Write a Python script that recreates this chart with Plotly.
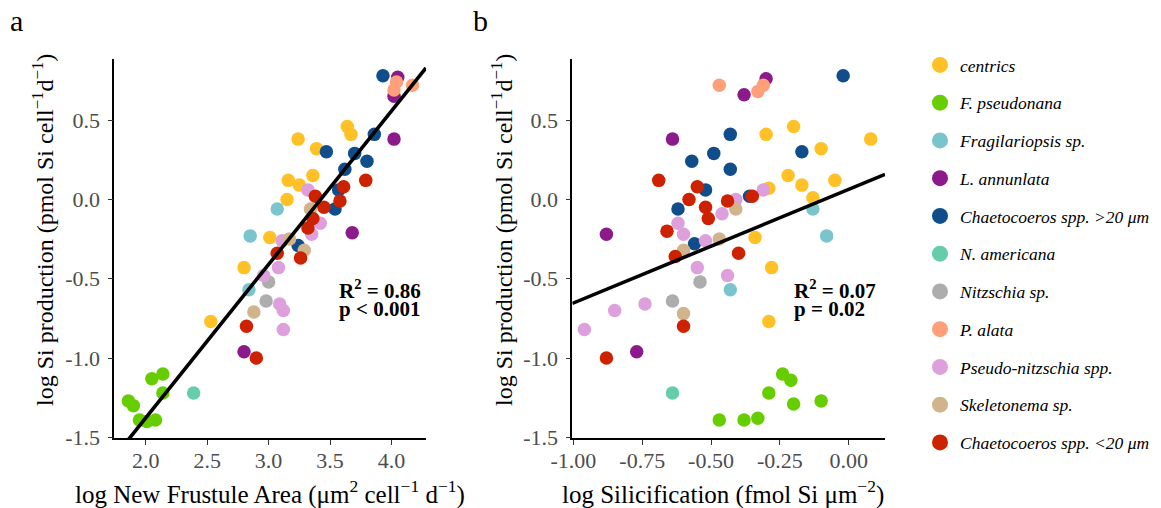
import numpy as np
import plotly.graph_objects as go

# ---------------------------------------------------------------- data
species = [
    "centrics", "F. pseudonana", "Fragilariopsis sp.", "L. annunlata",
    "Chaetocoeros spp. &gt;20 μm", "N. americana", "Nitzschia sp.",
    "P. alata", "Pseudo-nitzschia spp.", "Skeletonema sp.",
    "Chaetocoeros spp. &lt;20 μm",
]
colors = [
    "#FFC125", "#66CD00", "#7AC5CD", "#8B1A8B", "#104E8B", "#66CDAA",
    "#ADADAD", "#FFA07A", "#DDA0DD", "#D2B48C", "#CD2200",
]

# panel a: log new frustule area vs log Si production
area_centrics = [2.53, 2.80, 3.01, 3.15, 3.16, 3.25, 3.24, 3.39, 3.36, 3.64, 3.67]
prod_a_centrics = [-0.77, -0.43, -0.24, 0.00, 0.12, 0.09, 0.38, 0.32, 0.15, 0.46, 0.41]
area_fpseud = [1.86, 1.90, 2.05, 2.14, 2.14, 1.95, 2.01, 2.08]
prod_a_fpseud = [-1.27, -1.30, -1.13, -1.10, -1.22, -1.39, -1.40, -1.39]
area_fragil = [3.07, 2.85, 2.84]
prod_a_fragil = [-0.06, -0.23, -0.57]
area_lann = [4.05, 4.02, 4.02, 3.68, 2.80]
prod_a_lann = [0.77, 0.65, 0.38, -0.21, -0.96]
area_chaet_big = [3.93, 3.47, 3.70, 3.62, 3.80, 3.86, 3.54, 3.57, 3.24]
prod_a_chaet_big = [0.78, 0.30, 0.29, 0.19, 0.24, 0.41, -0.06, 0.06, -0.29]
area_namer = [2.39]
prod_a_namer = [-1.22]
area_nitz = [3.00, 2.98]
prod_a_nitz = [-0.52, -0.64]
area_palata = [4.04, 4.02, 4.17]
prod_a_palata = [0.74, 0.69, 0.72]
area_pseudo = [3.32, 3.42, 3.35, 3.11, 3.08, 2.96, 3.09, 3.12, 3.12]
prod_a_pseudo = [0.06, -0.15, -0.22, -0.26, -0.43, -0.48, -0.66, -0.70, -0.82]
area_skel = [3.17, 3.29, 3.34, 2.88]
prod_a_skel = [-0.25, -0.32, -0.06, -0.71]
area_chaet_small = [3.79, 3.61, 3.58, 3.38, 3.45, 3.36, 3.32, 3.07, 3.26, 2.82, 2.90]
prod_a_chaet_small = [0.12, 0.08, -0.01, 0.02, -0.05, -0.12, -0.18, -0.34, -0.37, -0.80, -1.00]

# panel b: log silicification vs log Si production
silic_centrics = [-0.30, -0.20, -0.10, 0.08, -0.22, -0.17, -0.05, -0.29, -0.13, -0.34, -0.28, -0.29]
prod_b_centrics = [0.41, 0.46, 0.32, 0.38, 0.15, 0.09, 0.12, 0.07, 0.01, -0.24, -0.43, -0.77]
silic_fpseud = [-0.47, -0.38, -0.33, -0.29, -0.24, -0.21, -0.20, -0.10]
prod_b_fpseud = [-1.39, -1.39, -1.38, -1.22, -1.10, -1.14, -1.29, -1.27]
silic_fragil = [-0.13, -0.08, -0.43]
prod_b_fragil = [-0.06, -0.23, -0.57]
silic_lann = [-0.30, -0.38, -0.64, -0.88, -0.77]
prod_b_lann = [0.76, 0.66, 0.38, -0.22, -0.96]
silic_chaet_big = [-0.02, -0.43, -0.17, -0.49, -0.57, -0.43, -0.52, -0.62, -0.36, -0.56]
prod_b_chaet_big = [0.78, 0.41, 0.30, 0.29, 0.24, 0.19, 0.06, -0.06, 0.02, -0.28]
silic_namer = [-0.64]
prod_b_namer = [-1.22]
silic_nitz = [-0.54, -0.64]
prod_b_nitz = [-0.52, -0.64]
silic_palata = [-0.47, -0.33, -0.31]
prod_b_palata = [0.72, 0.68, 0.72]
silic_pseudo = [-0.31, -0.41, -0.46, -0.62, -0.60, -0.52, -0.55, -0.44, -0.74, -0.85, -0.96]
prod_b_pseudo = [0.06, 0.00, -0.09, -0.15, -0.22, -0.26, -0.43, -0.48, -0.66, -0.70, -0.82]
silic_skel = [-0.41, -0.47, -0.60, -0.60]
prod_b_skel = [-0.06, -0.25, -0.32, -0.72]
silic_chaet_small = [-0.69, -0.55, -0.58, -0.52, -0.51, -0.66, -0.44, -0.35, -0.40, -0.63, -0.60, -0.88]
prod_b_chaet_small = [0.12, 0.08, 0.00, -0.05, -0.12, -0.20, -0.01, 0.02, -0.34, -0.36, -0.80, -1.00]

panel_a = [
    (area_centrics, prod_a_centrics), (area_fpseud, prod_a_fpseud),
    (area_fragil, prod_a_fragil), (area_lann, prod_a_lann),
    (area_chaet_big, prod_a_chaet_big), (area_namer, prod_a_namer),
    (area_nitz, prod_a_nitz), (area_palata, prod_a_palata),
    (area_pseudo, prod_a_pseudo), (area_skel, prod_a_skel),
    (area_chaet_small, prod_a_chaet_small),
]
panel_b = [
    (silic_centrics, prod_b_centrics), (silic_fpseud, prod_b_fpseud),
    (silic_fragil, prod_b_fragil), (silic_lann, prod_b_lann),
    (silic_chaet_big, prod_b_chaet_big), (silic_namer, prod_b_namer),
    (silic_nitz, prod_b_nitz), (silic_palata, prod_b_palata),
    (silic_pseudo, prod_b_pseudo), (silic_skel, prod_b_skel),
    (silic_chaet_small, prod_b_chaet_small),
]

# fitted regression lines (slope, intercept) of the full data sets
fit_a = (0.968, -3.314)
fit_b = (0.716, 0.063)

stats_a = ["<b>R<sup>2</sup> = 0.86</b>", "<b>p &lt; 0.001</b>"]
stats_b = ["<b>R<sup>2</sup> = 0.07</b>", "<b>p = 0.02</b>"]

y_ticks = [-1.5, -1.0, -0.5, 0.0, 0.5]
y_ticktext = ["-1.5", "-1.0", "-0.5", "0.0", "0.5"]
xa_ticks = [2.0, 2.5, 3.0, 3.5, 4.0]
xa_ticktext = ["2.0", "2.5", "3.0", "3.5", "4.0"]
xb_ticks = [-1.0, -0.75, -0.5, -0.25, 0.0]
xb_ticktext = ["-1.00", "-0.75", "-0.50", "-0.25", "0.00"]

# ---------------------------------------------------------------- figure
W, H = 1161, 508
SERIF = "Liberation Serif"
xa_range = [1.745, 4.28]
xb_range = [-1.004, 0.132]
y_range = [-1.504, 0.885]


def px_x(p):
    return p / W


def px_y(p):
    return 1 - p / H


fig = go.Figure()

for panel, (xs_name, ys_name) in (("a", ("x", "y")), ("b", ("x2", "y2"))):
    groups = panel_a if panel == "a" else panel_b
    for name, color, (xv, yv) in zip(species, colors, groups):
        fig.add_trace(go.Scatter(
            x=xv, y=yv, mode="markers", xaxis=xs_name, yaxis=ys_name,
            marker=dict(size=13.5, color=color, line=dict(width=0)),
            name=name, legendgroup=name, showlegend=False,
        ))
    slope, icpt = fit_a if panel == "a" else fit_b
    xr = xa_range if panel == "a" else xb_range
    lx = np.linspace(xr[0], xr[1], 50)
    fig.add_trace(go.Scatter(
        x=lx, y=slope * lx + icpt, mode="lines", xaxis=xs_name, yaxis=ys_name,
        line=dict(color="black", width=3.6), showlegend=False, hoverinfo="skip",
    ))

# legend entries with larger keys
for name, color in zip(species, colors):
    fig.add_trace(go.Scatter(
        x=[None], y=[None], mode="markers",
        marker=dict(size=18, color=color), name="<i>" + name + "</i>",
        legendgroup=name, showlegend=True,
    ))

axis_common = dict(
    showline=True, linecolor="black", linewidth=1.6, mirror=False,
    ticks="outside", ticklen=5, tickwidth=1.3, tickcolor="#333333",
    showgrid=False, zeroline=False, automargin=False,
    tickfont=dict(family=SERIF, size=22, color="#4D4D4D"),
)
x_axis_common = dict(axis_common, ticklabelstandoff=-3)
y_axis_common = dict(axis_common, ticklabelstandoff=3)

dom_y = [px_y(438), px_y(59)]
fig.update_layout(
    width=W, height=H,
    margin=dict(l=0, r=0, t=0, b=0, pad=0, autoexpand=False),
    paper_bgcolor="white", plot_bgcolor="white",
    xaxis=dict(domain=[px_x(114.3), px_x(426)], range=xa_range,
               tickvals=xa_ticks, ticktext=xa_ticktext, anchor="y", **x_axis_common),
    yaxis=dict(domain=dom_y, range=y_range, tickvals=y_ticks,
               ticktext=y_ticktext, anchor="x", **y_axis_common),
    xaxis2=dict(domain=[px_x(572.3), px_x(885)], range=xb_range,
                tickvals=xb_ticks, ticktext=xb_ticktext, anchor="y2", **x_axis_common),
    yaxis2=dict(domain=dom_y, range=y_range, tickvals=y_ticks,
                ticktext=y_ticktext, anchor="x2", **y_axis_common),
    legend=dict(
        x=px_x(920), y=px_y(47), xanchor="left", yanchor="top",
        font=dict(family=SERIF, size=17.5, color="black"),
        tracegroupgap=12, itemsizing="trace", bgcolor="rgba(0,0,0,0)",
    ),
    showlegend=True,
)

ytitle_font = dict(family=SERIF, size=24, color="black")
xtitle_font = dict(family=SERIF, size=25, color="black")
annotations = [
    dict(text="a", x=px_x(8), y=px_y(20), xanchor="left", yanchor="middle",
         font=dict(family=SERIF, size=30, color="black")),
    dict(text="b", x=px_x(471), y=px_y(20), xanchor="left", yanchor="middle",
         font=dict(family=SERIF, size=30, color="black")),
    dict(text="log Si production (pmol Si cell<sup>−1</sup>d<sup>−1</sup>)",
         x=px_x(43), y=px_y(230), textangle=-90, xanchor="center",
         yanchor="middle", font=ytitle_font),
    dict(text="log Si production (pmol Si cell<sup>−1</sup>d<sup>−1</sup>)",
         x=px_x(502), y=px_y(230), textangle=-90, xanchor="center",
         yanchor="middle", font=ytitle_font),
    dict(text="log New Frustule Area (μm<sup>2</sup> cell<sup>−1</sup> d<sup>−1</sup>)",
         x=px_x(270), y=px_y(492), xanchor="center", yanchor="middle",
         font=xtitle_font),
    dict(text="log Silicification (fmol Si μm<sup>−2</sup>)",
         x=px_x(723), y=px_y(492), xanchor="center", yanchor="middle",
         font=xtitle_font),
]
stat_font = dict(family=SERIF, size=21, color="black")
for lines, left in ((stats_a, 337), (stats_b, 792)):
    for txt, yc in zip(lines, (289, 309)):
        annotations.append(dict(text=txt, x=px_x(left), y=px_y(yc),
                                xanchor="left", yanchor="middle", font=stat_font))
for a in annotations:
    a.update(xref="paper", yref="paper", showarrow=False)
fig.update_layout(annotations=annotations)

fig.write_html("out.html")
